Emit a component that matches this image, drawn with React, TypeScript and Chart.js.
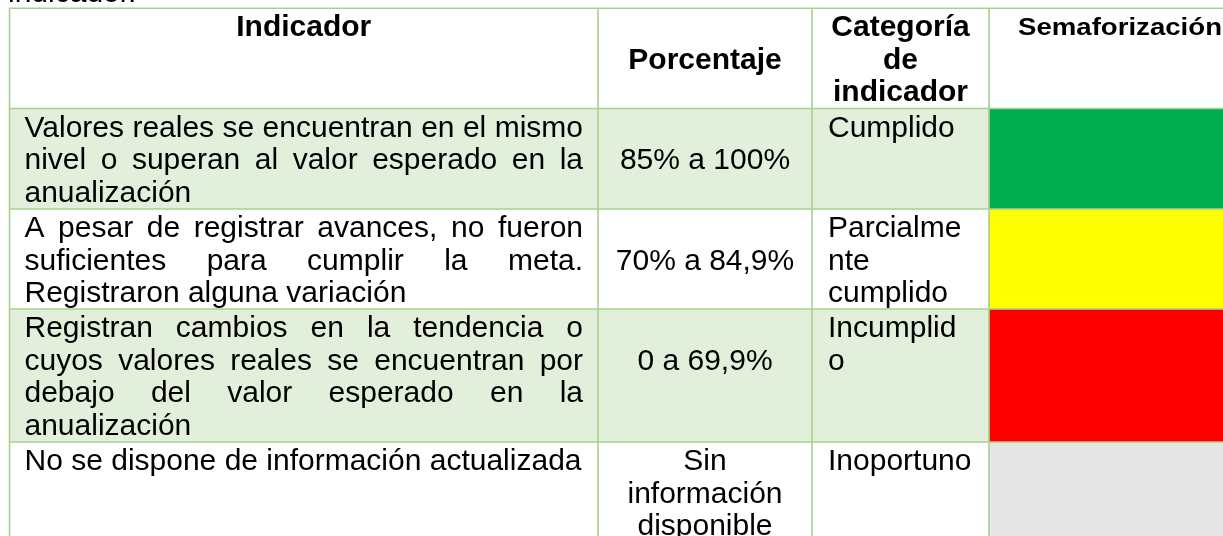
import React, { useEffect, useRef } from "react";
import { Chart, registerables } from "chart.js";

Chart.register(...registerables);

// ---------- DATA ----------
const precedingText = "indicador.";
const headerLines: string[][] = [["Indicador"], ["Porcentaje"], ["Categoría", "de", "indicador"], ["Semaforización"]];
const indicadores: string[][] = [
  ["Valores reales se encuentran en el mismo", "nivel o superan al valor esperado en la", "anualización"],
  ["A pesar de registrar avances, no fueron", "suficientes para cumplir la meta.", "Registraron alguna variación"],
  ["Registran cambios en la tendencia o", "cuyos valores reales se encuentran por", "debajo del valor esperado en la", "anualización"],
  ["No se dispone de información actualizada"],
];
const porcentajes: string[][] = [["85% a 100%"], ["70% a 84,9%"], ["0 a 69,9%"], ["Sin", "información", "disponible"]];
const categorias: string[][] = [["Cumplido"], ["Parcialme", "nte", "cumplido"], ["Incumplid", "o"], ["Inoportuno"]];
const semaforo: string[] = ["#00B050", "#FFFF00", "#FF0000", "#E7E6E6"];
const sombreado: boolean[] = [true, false, true, false];

// ---------- LAYOUT / STYLE ----------
const W = 1223;
const H = 536;
const colEdges = [9.5, 598, 812, 989, 1240];
const rowEdges = [8.2, 108.5, 209, 309, 442, 545];
const PAD = 15;
const CAT_PAD = 16;
const LINE_H = 32.5;
const FIRST_BASE = 28;
const FONT = '"Liberation Sans", Arial, sans-serif';
const SIZE = 30;
const BORDER = "#A9D08E";
const SHADE = "#E2EFDA";

const tablePlugin = {
  id: "tablePlugin",
  afterDraw(chart: any) {
    const ctx: CanvasRenderingContext2D = chart.ctx;
    const xs = chart.scales.x;
    const ys = chart.scales.y;
    const px = (v: number) => xs.getPixelForValue(v);
    const py = (v: number) => ys.getPixelForValue(v);
    const nRows = indicadores.length;

    ctx.save();
    ctx.fillStyle = "#ffffff";
    ctx.fillRect(0, 0, W, H);

    // Preceding paragraph line (cut off at the top)
    ctx.fillStyle = "#000";
    ctx.font = `${SIZE}px ${FONT}`;
    ctx.textBaseline = "alphabetic";
    ctx.textAlign = "left";
    ctx.fillText(precedingText, px(8), py(2));

    // Cell fills
    for (let r = 0; r < nRows; r++) {
      const top = rowEdges[r + 1];
      const bot = rowEdges[r + 2];
      if (sombreado[r]) {
        ctx.fillStyle = SHADE;
        ctx.fillRect(px(colEdges[0]), py(top), px(colEdges[3]) - px(colEdges[0]), py(bot) - py(top));
      }
      ctx.fillStyle = semaforo[r];
      ctx.fillRect(px(colEdges[3]), py(top), px(colEdges[4]) - px(colEdges[3]), py(bot) - py(top));
    }

    // Borders
    ctx.strokeStyle = BORDER;
    ctx.lineWidth = 1.6;
    ctx.beginPath();
    for (let i = 0; i < rowEdges.length - 1; i++) {
      ctx.moveTo(px(colEdges[0]) - 0.8, py(rowEdges[i]));
      ctx.lineTo(px(colEdges[4]), py(rowEdges[i]));
    }
    for (let j = 0; j < colEdges.length - 1; j++) {
      ctx.moveTo(px(colEdges[j]), py(rowEdges[0]));
      ctx.lineTo(px(colEdges[j]), py(rowEdges[rowEdges.length - 1]));
    }
    ctx.stroke();

    ctx.fillStyle = "#000";
    const baseline = (rowTop: number, idx: number) => py(rowTop + FIRST_BASE + idx * LINE_H);

    // Header
    ctx.font = `bold ${SIZE}px ${FONT}`;
    const hTop = rowEdges[0];
    const hLines = Math.max(...headerLines.slice(0, 3).map((l) => l.length));
    for (let c = 0; c < 3; c++) {
      const lines = headerLines[c];
      const start = c === 0 ? 0 : Math.floor((hLines - lines.length) / 2);
      const cx = (px(colEdges[c]) + px(colEdges[c + 1])) / 2;
      ctx.textAlign = "center";
      lines.forEach((t, i) => ctx.fillText(t, cx, baseline(hTop, start + i)));
    }
    // Semaforización (smaller, stretched)
    {
      ctx.textAlign = "left";
      ctx.font = `bold 24px ${FONT}`;
      const t = headerLines[3][0];
      const w = ctx.measureText(t).width;
      const target = 204;
      ctx.save();
      ctx.translate(px(colEdges[3] + 29), py(hTop + 26.5));
      ctx.scale(target / w, 1);
      ctx.fillText(t, 0, 0);
      ctx.restore();
    }

    // Body rows
    ctx.font = `${SIZE}px ${FONT}`;
    for (let r = 0; r < nRows; r++) {
      const top = rowEdges[r + 1];
      const rowLines = Math.max(indicadores[r].length, porcentajes[r].length, categorias[r].length);
      // Column 1 justified
      const x0 = px(colEdges[0] + PAD);
      const x1 = px(colEdges[1] - PAD);
      ctx.textAlign = "left";
      indicadores[r].forEach((line, i) => {
        const y = baseline(top, i);
        const isLast = i === indicadores[r].length - 1;
        const words = line.split(" ");
        if (isLast || words.length < 2) {
          ctx.fillText(line, x0, y);
        } else {
          const widths = words.map((w) => ctx.measureText(w).width);
          const sum = widths.reduce((a, b) => a + b, 0);
          const gap = (x1 - x0 - sum) / (words.length - 1);
          let x = x0;
          words.forEach((w, k) => {
            ctx.fillText(w, x, y);
            x += widths[k] + gap;
          });
        }
      });
      // Column 2 centered
      ctx.textAlign = "center";
      const cx2 = (px(colEdges[1]) + px(colEdges[2])) / 2;
      const s2 = Math.floor((rowLines - porcentajes[r].length) / 2);
      porcentajes[r].forEach((t, i) => ctx.fillText(t, cx2, baseline(top, s2 + i)));
      // Column 3 left
      ctx.textAlign = "left";
      categorias[r].forEach((t, i) => ctx.fillText(t, px(colEdges[2] + CAT_PAD), baseline(top, i)));
    }
    ctx.restore();
  },
};

export default function App() {
  const ref = useRef<HTMLCanvasElement | null>(null);
  useEffect(() => {
    if (!ref.current) return;
    const chart = new Chart(ref.current, {
      type: "scatter",
      data: { datasets: [{ data: [] }] },
      options: {
        animation: false,
        responsive: false,
        devicePixelRatio: 1,
        layout: { padding: 0 },
        plugins: { legend: { display: false }, tooltip: { enabled: false } },
        scales: {
          x: { type: "linear", min: 0, max: W, display: false },
          y: { type: "linear", min: 0, max: H, reverse: true, display: false },
        },
      },
      plugins: [tablePlugin],
    } as any);
    return () => chart.destroy();
  }, []);
  return (
    <div style={{ position: "fixed", left: 0, top: 0, width: W, height: H, background: "#fff" }}>
      <canvas ref={ref} width={W} height={H} style={{ display: "block", width: W, height: H }} />
    </div>
  );
}
